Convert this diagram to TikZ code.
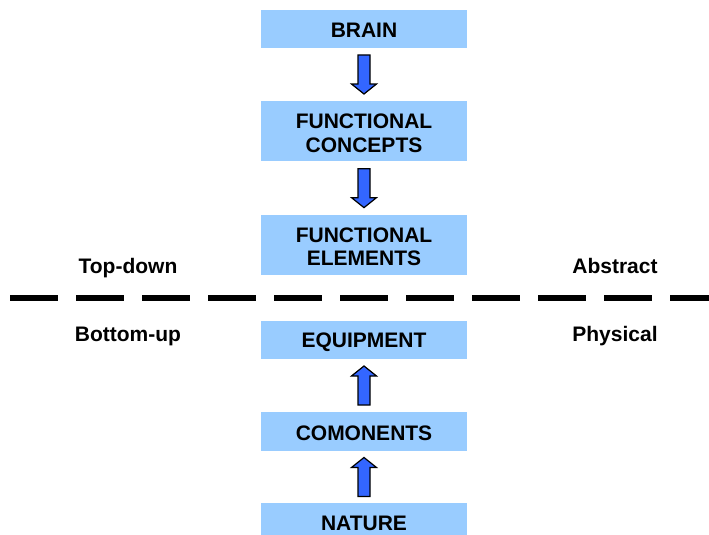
\documentclass[tikz,border=0pt]{standalone}
\usepackage{fontspec}
\setmainfont{Liberation Sans}
\usetikzlibrary{calc}
\definecolor{boxblue}{HTML}{99CCFF}
\definecolor{arrowblue}{HTML}{3366FF}
\newcommand{\lowtext}[2][2.5pt]{\raisebox{-#1}[\height][\depth]{\begin{tabular}{@{}c@{}}#2\end{tabular}}}
\begin{document}
\begin{tikzpicture}[x=1pt,y=-1pt,
  box/.style={fill=boxblue, minimum width=206pt, inner sep=0pt, align=center,
    font=\fontsize{21}{23.5}\selectfont\bfseries},
  lbl/.style={inner sep=0pt, font=\fontsize{21}{24}\selectfont\bfseries},
  barrowstyle/.style={draw=black, line width=1.2pt, fill=arrowblue, line join=miter},
  barrow/.pic={\draw[barrowstyle] (-6,-19.5) -- (6,-19.5) -- (6,9.5) -- (12.5,9.5)
      -- (0,19.5) -- (-12.5,9.5) -- (-6,9.5) -- cycle;},
  divider/.style={line width=6pt, dash pattern=on 48pt off 18pt}]
\useasboundingbox (0,0) rectangle (709,535);
\clip (0,0) rectangle (709,535);
\node[box, minimum height=38pt] (brain) at (364,29) {\lowtext[3.5pt]{BRAIN}};
\node[box, minimum height=60pt] (fc) at (364,131) {\lowtext[4.8pt]{FUNCTIONAL\\CONCEPTS}};
\node[box, minimum height=60pt] (fe) at (364,245.3) {\lowtext[4.2pt]{FUNCTIONAL\\ELEMENTS}};
\node[box, minimum height=38pt] (equip) at (364,340) {\lowtext[3pt]{EQUIPMENT}};
\node[box, minimum height=39pt] (comp) at (364,431.5) {\lowtext[4.5pt]{COMONENTS}};
\node[box, minimum height=38pt] (nature) at (364,522) {\lowtext[4.2pt]{NATURE}};
\pic (a1) at ($(brain.south)!0.5!(fc.north)$) {barrow};
\pic (a2) at ($(fc.south)!0.5!(fe.north)$) {barrow};
\pic[rotate=180] (a3) at ($(comp.north)!0.5!(equip.south)$) {barrow};
\pic[rotate=180] (a4) at ($(nature.north)!0.5!(comp.south)$) {barrow};
\node[lbl] (td) at (128,266) {\lowtext{Top-down}};
\node[lbl] (ab) at (615,266) {\lowtext{Abstract}};
\node[lbl] (bu) at (128,334) {\lowtext{Bottom-up}};
\node[lbl] (ph) at (615,334) {\lowtext{Physical}};
\coordinate (dl) at (10,298);
\coordinate (dr) at (720,298);
\draw[divider] (dl) -- (dr);
\end{tikzpicture}
\end{document}
